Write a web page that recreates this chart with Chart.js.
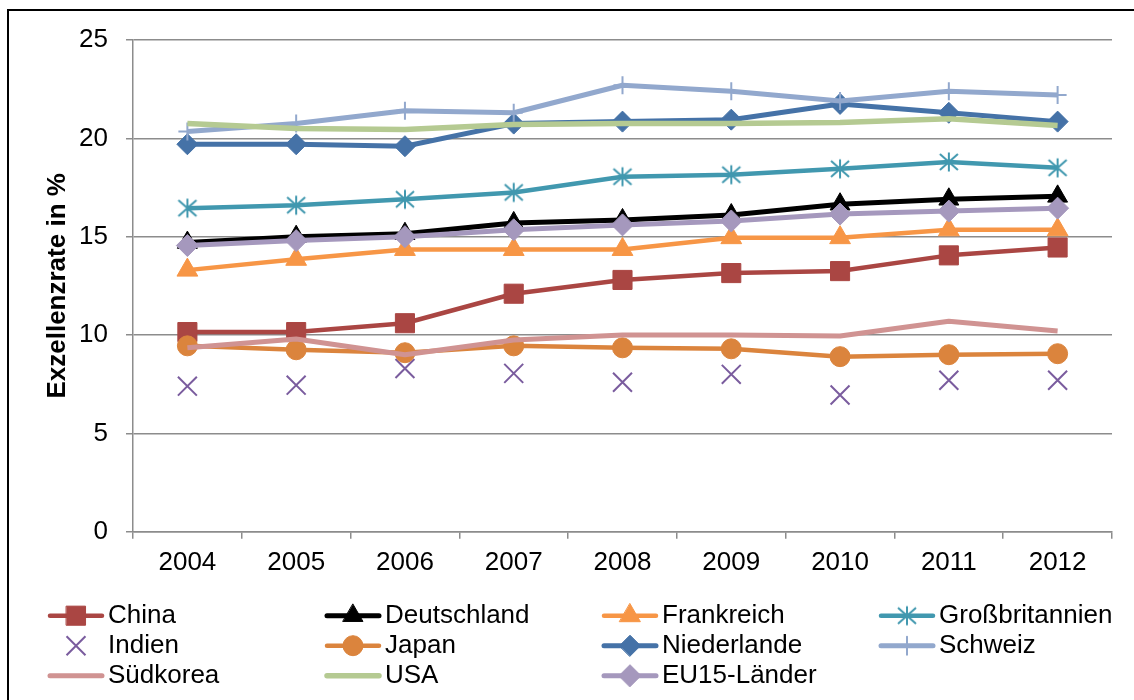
<!DOCTYPE html>
<html>
<head>
<meta charset="utf-8">
<script src="https://cdn.jsdelivr.net/npm/chart.js@4"></script>
<style>
  html, body { margin: 0; padding: 0; background: #fff; overflow: hidden; }
  #wrap { position: relative; width: 1134px; height: 700px; overflow: hidden; }
  #c { position: absolute; left: 0; top: 0; }
  #frame { position: absolute; left: 7px; top: 9px; width: 1300px; height: 900px;
           border-left: 2px solid #000; border-top: 2px solid #000; box-sizing: border-box;
           pointer-events: none; }
</style>
</head>
<body>
<div id="wrap">
  <canvas id="c" width="1134" height="700" style="width:1134px;height:700px"></canvas>
  <div id="frame"></div>
</div>
<script>
// Jahre (Kategorien)
const years = ['2004', '2005', '2006', '2007', '2008', '2009', '2010', '2011', '2012'];

// Exzellenzrate in % je Land
const china           = [10.15, 10.15, 10.6, 12.1, 12.8, 13.15, 13.25, 14.05, 14.45];
const deutschland     = [14.7, 15.0, 15.15, 15.7, 15.85, 16.1, 16.65, 16.9, 17.05];
const frankreich      = [13.3, 13.85, 14.35, 14.35, 14.35, 14.95, 14.95, 15.35, 15.35];
const grossbritannien = [16.45, 16.6, 16.9, 17.25, 18.05, 18.15, 18.45, 18.8, 18.5];
const indien          = [7.4, 7.45, 8.3, 8.05, 7.6, 8.0, 6.95, 7.7, 7.7];
const japan           = [9.45, 9.25, 9.1, 9.45, 9.35, 9.3, 8.9, 9.0, 9.05];
const niederlande     = [19.7, 19.7, 19.6, 20.75, 20.85, 20.95, 21.75, 21.3, 20.85];
const schweiz         = [20.35, 20.75, 21.4, 21.3, 22.7, 22.4, 21.9, 22.4, 22.2];
const suedkorea       = [9.35, 9.8, 9.0, 9.75, 10.0, 10.0, 9.95, 10.7, 10.2];
const usa             = [20.75, 20.5, 20.45, 20.7, 20.75, 20.75, 20.8, 21.0, 20.65];
const eu15            = [14.55, 14.8, 15.0, 15.35, 15.6, 15.8, 16.15, 16.3, 16.45];

// y-axis ticks
const yTicks = [0, 5, 10, 15, 20, 25];

const FONT = '"Liberation Sans", Arial, sans-serif';

// Asterisk marker (X plus vertical stroke)
function asterisk(color) {
  const cv = document.createElement('canvas');
  cv.width = 24; cv.height = 24;
  const g = cv.getContext('2d');
  g.strokeStyle = color; g.lineWidth = 2; g.lineCap = 'butt';
  g.beginPath();
  g.moveTo(3, 4); g.lineTo(21, 20);
  g.moveTo(21, 4); g.lineTo(3, 20);
  g.moveTo(12, 2.5); g.lineTo(12, 21.5);
  g.stroke();
  return cv;
}

function series(label, data, color, o) {
  o = o || {};
  return {
    label: label,
    data: data,
    borderColor: color,
    backgroundColor: color,
    borderWidth: o.width != null ? o.width : 4.5,
    showLine: o.showLine !== false,
    pointStyle: o.style || 'circle',
    pointRadius: o.radius || 0,
    pointHoverRadius: o.radius || 0,
    pointBackgroundColor: color,
    pointBorderColor: color,
    pointBorderWidth: o.pbw != null ? o.pbw : 1,
    borderJoinStyle: 'round',
    tension: 0,
    clip: false
  };
}

const datasets = [
  series('China', china, '#AA4643', { style: 'rect', radius: 13.5 }),
  series('Deutschland', deutschland, '#000000', { style: 'triangle', radius: 11.5, width: 5 }),
  series('Frankreich', frankreich, '#F79646', { style: 'triangle', radius: 12 }),
  series('Großbritannien', grossbritannien, '#4198AF', { style: asterisk('#4198AF'), radius: 10, width: 4.5 }),
  series('Indien', indien, '#7A5C9E', { style: 'crossRot', radius: 13.4, showLine: false, pbw: 2, width: 0 }),
  series('Japan', japan, '#DB843D', { style: 'circle', radius: 10 }),
  series('Niederlande', niederlande, '#4572A7', { style: 'rectRot', radius: 10.5, width: 5 }),
  series('Schweiz', schweiz, '#92A8CD', { style: 'cross', radius: 9, pbw: 2, width: 5 }),
  series('Südkorea', suedkorea, '#D09392', { width: 5 }),
  series('USA', usa, '#B5CA92', { width: 5.5 }),
  series('EU15-Länder', eu15, '#A598BD', { style: 'rectRot', radius: 11, width: 5 })
];
// later series are painted over earlier ones
datasets.forEach((d, i) => { d.order = datasets.length - i; });

// Legend laid out as a 4-column grid below the plot
const gridLegend = {
  id: 'gridLegend',
  afterDraw(chart) {
    const ctx = chart.ctx;
    chart.data.datasets.forEach((ds, i) => {
      const col = i % 4, row = Math.floor(i / 4);
      const x0 = 48 + col * 277, y = 615.7 + row * 30;
      ctx.save();
      if (ds.showLine !== false) {
        ctx.strokeStyle = ds.borderColor;
        ctx.lineWidth = ds.borderWidth;
        ctx.lineCap = 'round';
        ctx.beginPath();
        ctx.moveTo(x0 + 2, y);
        ctx.lineTo(x0 + 54, y);
        ctx.stroke();
      }
      if (ds.pointRadius > 0) {
        ctx.fillStyle = ds.pointBackgroundColor;
        ctx.strokeStyle = ds.pointBorderColor;
        ctx.lineWidth = ds.pointBorderWidth;
        Chart.helpers.drawPoint(ctx, {
          pointStyle: ds.pointStyle, rotation: 0,
          radius: ds.pointRadius, borderWidth: ds.pointBorderWidth
        }, x0 + 28, y);
      }
      ctx.fillStyle = '#000';
      ctx.font = '26px ' + FONT;
      ctx.textBaseline = 'middle';
      ctx.textAlign = 'left';
      ctx.fillText(ds.label, x0 + 60, y);
      ctx.restore();
    });
  }
};

const whiteBg = {
  id: 'whiteBg',
  beforeDraw(chart) {
    const ctx = chart.ctx;
    ctx.save();
    ctx.fillStyle = '#fff';
    ctx.fillRect(0, 0, chart.width, chart.height);
    ctx.restore();
  }
};

new Chart(document.getElementById('c'), {
  type: 'line',
  data: { labels: years, datasets: datasets },
  plugins: [whiteBg, gridLegend],
  options: {
    responsive: false,
    animation: false,
    events: [],
    layout: { padding: { left: 40, top: 40, right: 22, bottom: 108.3 } },
    plugins: { legend: { display: false }, tooltip: { enabled: false }, title: { display: false } },
    scales: {
      x: {
        type: 'category',
        offset: true,
        afterFit(s) { s.height = 60; },
        grid: { offset: true, drawOnChartArea: false, drawTicks: true, tickLength: 7, color: '#8C8C8C', lineWidth: 1.5 },
        border: { display: true, color: '#8C8C8C', width: 1.5 },
        ticks: { color: '#000', font: { family: FONT, size: 26 }, padding: 9, maxRotation: 0, autoSkip: false }
      },
      y: {
        min: 0, max: 25,
        afterFit(s) { s.width = 93; },
        afterBuildTicks(s) { s.ticks = yTicks.map(v => ({ value: v })); },
        grid: { drawTicks: true, tickLength: 7, color: '#8C8C8C', lineWidth: 1.5 },
        border: { display: true, color: '#8C8C8C', width: 1.5 },
        ticks: { color: '#000', font: { family: FONT, size: 26 }, padding: 18 },
        title: {
          display: true, text: 'Exzellenzrate in %', color: '#000',
          font: { family: FONT, size: 26, weight: 'bold' },
          padding: { top: 2, bottom: 0 }
        }
      }
    }
  }
});
</script>
</body>
</html>
